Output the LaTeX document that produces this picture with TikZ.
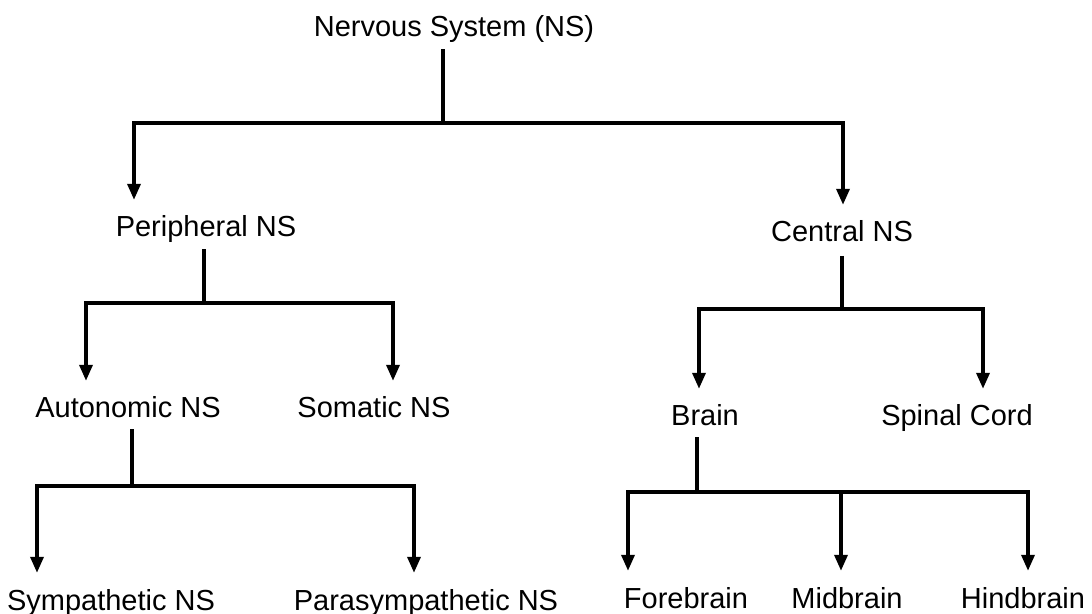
\documentclass[tikz,border=0pt]{standalone}
\usepackage{fontspec}
\setmainfont{Liberation Sans}
\usetikzlibrary{arrows.meta}

\begin{document}
\begin{tikzpicture}[x=0.02cm,y=-0.02cm,
		every node/.style={font=\fontsize{16.5}{19}\selectfont,anchor=base},
		link/.style={line width=2pt},
		arrow/.style={link,-{Triangle[length=0.32cm,width=0.26cm]},shorten >=0.2cm}]
		\useasboundingbox (0,0) rectangle (1092,614);
		\node (ns)     at (454,37)  {Nervous System (NS)};
		\node (pns)    at (206,237) {Peripheral NS};
		\node (cns)    at (842,242) {Central NS};
		\node (ans)    at (128,418) {Autonomic NS};
		\node (sns)    at (374,418) {Somatic NS};
		\node (brain)  at (705,426) {Brain};
		\node (spinal) at (957,426) {Spinal Cord};
		\node (symp)   at (111,610) {Sympathetic NS};
		\node (para)   at (426,610) {Parasympathetic NS};
		\node (fore)   at (686,608) {Forebrain};
		\node (mid)    at (847,608) {Midbrain};
		\node (hind)   at (1023,608) {Hindbrain};
		%% nervous system
		\draw[link]  (ns.south -| 443,0) -- (443,123);
		\draw[arrow] (443,123) -| (pns.north -| 134,0);
		\draw[arrow] (443,123) -| (cns.north -| 843,0);
		%% peripheral
		\draw[link]  (pns.south -| 204,0) -- (204,303);
		\draw[arrow] (204,303) -| (ans.north -| 86,0);
		\draw[arrow] (204,303) -| (sns.north -| 393,0);
		%% central
		\draw[link,shorten <=0.15cm]  (cns.south -| 842,0) -- (842,309);
		\draw[arrow] (842,309) -| (brain.north -| 699,0);
		\draw[arrow] (842,309) -| (spinal.north -| 983,0);
		%% autonomic
		\draw[link,shorten <=0.1cm]  (ans.south -| 132,0) -- (132,486);
		\draw[arrow] (132,486) -| (symp.north -| 37,0);
		\draw[arrow] (132,486) -| (para.north -| 414,0);
		%% brain
		\draw[link,shorten <=0.1cm]  (brain.south -| 697,0) -- (697,492);
		\draw[arrow] (697,492) -| (fore.north -| 628,0);
		\draw[arrow] (697,492) -| (mid.north -| 841,0);
		\draw[arrow] (697,492) -| (hind.north -| 1028,0);
	\end{tikzpicture}
\end{document}
